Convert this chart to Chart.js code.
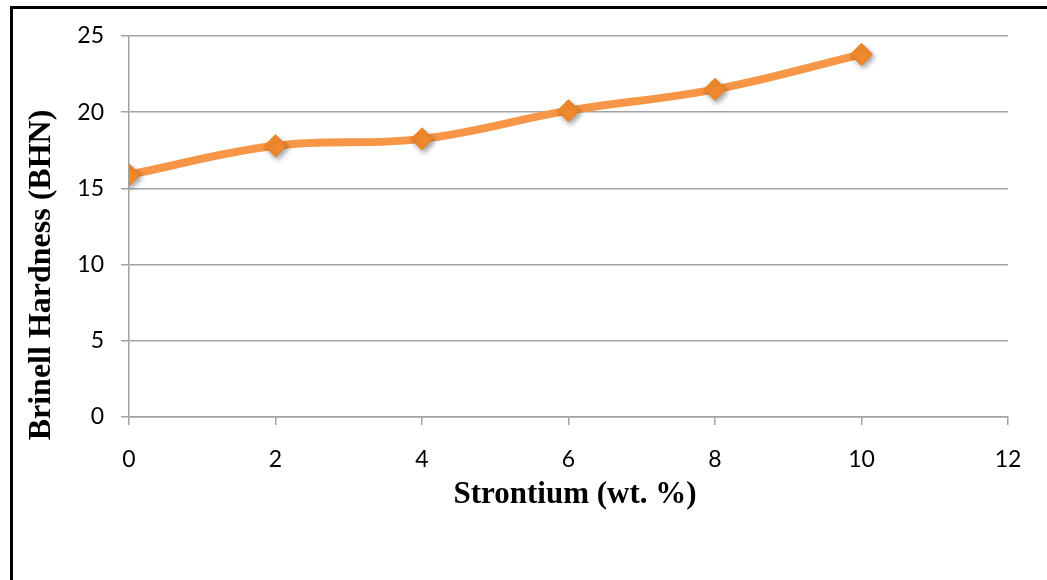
<!DOCTYPE html>
<html>
<head>
<meta charset="utf-8">
<script src="https://cdn.jsdelivr.net/npm/chart.js@4.4.0/dist/chart.umd.min.js"></script>
<style>
  html, body { margin: 0; padding: 0; background: #fff; }
  #wrap { position: relative; width: 1047px; height: 580px; }
</style>
</head>
<body>
<div id="wrap"><canvas id="hardness_chart"></canvas></div>
<script>
// Data
const strontium = [0, 2, 4, 6, 8, 10];
const hardness = [15.9, 17.8, 18.25, 20.1, 21.5, 23.8];
const xTicks = [0, 2, 4, 6, 8, 10, 12];
const yTicks = [0, 5, 10, 15, 20, 25];
const xTitle = 'Strontium (wt. %)';
const yTitle = 'Brinell Hardness (BHN)';

const points = strontium.map((x, i) => ({ x: x, y: hardness[i] }));
const gridGrey = '#a3a3a3';
const serif = '"Liberation Serif", "Times New Roman", serif';

// black frame at the top and left of the picture
const framePlugin = {
    id: 'frame',
    beforeDraw(chart) {
        const ctx = chart.ctx;
        ctx.save();
        ctx.fillStyle = '#fff';
        ctx.fillRect(0, 0, chart.width, chart.height);
        ctx.fillStyle = '#000';
        ctx.fillRect(10, 6, chart.width - 10, 3);
        ctx.fillRect(10, 6, 3, chart.height - 6);
        ctx.restore();
    }
};

// axis titles, placed where the original has them (a bit off centre)
const titlesPlugin = {
    id: 'axisTitles',
    afterDraw(chart) {
        const ctx = chart.ctx;
        ctx.save();
        ctx.fillStyle = '#000';
        ctx.textAlign = 'center';
        ctx.textBaseline = 'alphabetic';
        ctx.font = 'bold 31px ' + serif;
        ctx.fillText(xTitle, 575, 503);
        ctx.font = 'bold 32px ' + serif;
        ctx.translate(50, 275);
        ctx.rotate(-Math.PI / 2);
        ctx.fillText(yTitle, 0, 0);
        ctx.restore();
    }
};

// soft drop shadow under the markers only
const shadowPlugin = {
    id: 'markerShadow',
    beforeDatasetDraw(chart, args) {
        if (args.index !== 0) return;
        const ctx = chart.ctx;
        ctx.save();
        ctx.shadowColor = 'rgba(0,0,0,0.35)';
        ctx.shadowBlur = 5;
        ctx.shadowOffsetX = 2;
        ctx.shadowOffsetY = 3;
    },
    afterDatasetDraw(chart, args) {
        if (args.index !== 0) return;
        chart.ctx.restore();
    }
};

new Chart(document.getElementById('hardness_chart'), {
    type: 'scatter',
    data: {
        datasets: [
            {
                label: 'markers',
                data: points,
                showLine: false,
                pointStyle: 'rectRot',
                pointRadius: 11,
                pointHoverRadius: 11,
                pointBackgroundColor: '#F28A2E',
                pointBorderColor: '#E97C1C',
                pointBorderWidth: 1
            },
            {
                label: 'line',
                data: points,
                showLine: true,
                borderColor: '#F79646',
                borderWidth: 8,
                tension: 0.4,
                pointRadius: 0,
                pointHoverRadius: 0,
                borderCapStyle: 'round',
                borderJoinStyle: 'round'
            }
        ]
    },
    options: {
        responsive: true,
        maintainAspectRatio: false,
        animation: false,
        events: [],
        layout: { padding: { left: 0, right: 39, top: 36, bottom: 63 } },
        plugins: {
            legend: { display: false },
            tooltip: { enabled: false }
        },
        scales: {
            x: {
                type: 'linear',
                min: xTicks[0],
                max: xTicks[xTicks.length - 1],
                afterBuildTicks: (axis) => { axis.ticks = xTicks.map(v => ({ value: v })); },
                afterFit: (axis) => { axis.height = 100; },
                grid: {
                    drawOnChartArea: false,
                    drawTicks: true,
                    tickLength: 8,
                    color: gridGrey,
                    lineWidth: 1.5
                },
                border: { display: true, color: gridGrey, width: 1.5 },
                ticks: {
                    padding: 21,
                    color: '#000',
                    font: { family: 'Lato', size: 23 }
                },
                title: { display: false }
            },
            y: {
                min: yTicks[0],
                max: yTicks[yTicks.length - 1],
                afterBuildTicks: (axis) => { axis.ticks = yTicks.map(v => ({ value: v })); },
                afterFit: (axis) => { axis.width = 129; },
                grid: {
                    drawTicks: true,
                    tickLength: 8,
                    color: gridGrey,
                    lineWidth: 1.5
                },
                border: { display: true, color: gridGrey, width: 1.5 },
                ticks: {
                    padding: 17,
                    color: '#000',
                    font: { family: 'Lato', size: 23 }
                },
                title: { display: false }
            }
        }
    },
    plugins: [framePlugin, titlesPlugin, shadowPlugin]
});
</script>
</body>
</html>
